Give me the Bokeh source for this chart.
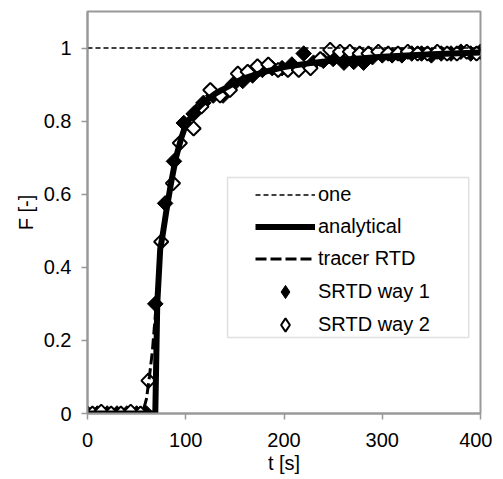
import numpy as np
from bokeh.plotting import figure
from bokeh.models import (Legend, LegendItem, FixedTicker, NumeralTickFormatter,
                          BoxAnnotation, Range1d)
from bokeh.embed import file_html
from bokeh.resources import INLINE

# ---- data ----
one_t = [0, 400]
one_F = [1, 1]

analytical_t = [0, 69, 71, 74, 76, 80, 85, 90, 95, 100, 110, 120, 130, 140, 150,
                160, 180, 200, 225, 250, 300, 350, 400]
analytical_F = [0, 0, 0.30, 0.45, 0.48, 0.55, 0.63, 0.70, 0.75, 0.79, 0.83, 0.855,
                0.875, 0.89, 0.905, 0.918, 0.935, 0.948, 0.958, 0.966, 0.976, 0.983, 0.988]

tracer_t = [0, 56, 60, 63, 66, 70, 74, 78, 85, 90, 100, 120, 150, 200, 250, 300, 400]
tracer_F = [0, 0, 0.04, 0.10, 0.17, 0.30, 0.44, 0.52, 0.63, 0.70, 0.79, 0.855,
            0.905, 0.948, 0.966, 0.976, 0.988]

way1_t = [0, 10, 20, 30, 40, 50, 60, 69, 79, 88, 98, 108, 118, 128, 138, 148, 158,
          168, 178, 188, 198, 208, 220, 230, 240, 250, 261, 271, 281, 290, 300, 310,
          320, 330, 340, 350, 360, 370, 380, 390, 400]
way1_F = [0, 0, 0, 0, 0, 0, 0, 0.30, 0.575, 0.69, 0.795, 0.82, 0.85, 0.87, 0.87,
          0.90, 0.91, 0.925, 0.94, 0.945, 0.945, 0.955, 0.985, 0.96, 0.965, 0.97,
          0.96, 0.962, 0.96, 0.975, 0.98, 0.98, 0.98, 0.985, 0.985, 0.98, 0.985,
          0.985, 0.99, 0.985, 0.99]

way2_t = [5, 14, 24, 34, 44, 54, 62, 75, 87, 94, 108, 116, 125, 135, 145, 153, 163,
          173, 184, 194, 204, 215, 227, 237, 247, 257, 267, 277, 286, 296, 306, 316,
          326, 336, 346, 356, 366, 376, 386, 396]
way2_F = [0, 0.005, 0, 0, 0.005, 0, 0.09, 0.47, 0.63, 0.74, 0.78, 0.84, 0.885, 0.87,
          0.885, 0.93, 0.935, 0.95, 0.955, 0.94, 0.94, 0.94, 0.945, 0.97, 0.995,
          0.99, 0.99, 0.985, 0.985, 0.99, 0.985, 0.985, 0.99, 0.985, 0.985, 0.99,
          0.985, 0.985, 0.99, 0.985]

x_ticks = [0, 100, 200, 300, 400]
y_ticks = [0, 0.2, 0.4, 0.6, 0.8, 1.0]

FONT = "Liberation Sans"
GRAY = "#999999"

p = figure(frame_width=393, frame_height=402, output_backend="svg",
           toolbar_location=None, x_range=Range1d(0, 400), y_range=Range1d(0, 1.1),
           min_border_left=87, min_border_top=11, min_border_right=12,
           min_border_bottom=50)
p.xgrid.visible = False
p.ygrid.visible = False
p.outline_line_color = GRAY
p.outline_line_width = 2
p.background_fill_color = "white"
p.border_fill_color = "white"

for ax in (p.xaxis[0], p.yaxis[0]):
    ax.axis_line_color = GRAY
    ax.axis_line_width = 2
    ax.major_tick_line_color = GRAY
    ax.major_tick_line_width = 1.5
    ax.major_tick_in = 0
    ax.major_tick_out = 6
    ax.minor_tick_line_color = None
    ax.major_label_text_font = FONT
    ax.major_label_text_font_size = "20px"
    ax.major_label_text_color = "black"
    ax.axis_label_text_font = FONT
    ax.axis_label_text_font_size = "20px"
    ax.axis_label_text_font_style = "normal"
    ax.axis_label_text_color = "black"

p.xaxis.ticker = FixedTicker(ticks=x_ticks)
p.yaxis.ticker = FixedTicker(ticks=y_ticks)
p.yaxis.formatter = NumeralTickFormatter(format="0.[0]")
p.xaxis.axis_label = "t [s]"
p.yaxis.axis_label = "F [-]"
p.xaxis.major_label_standoff = 13
p.yaxis.major_label_standoff = 10
p.xaxis.axis_label_standoff = 2
p.yaxis.axis_label_standoff = 4

# markers (rotated squares = diamonds)
r_w1 = p.scatter(way1_t, way1_F, marker="square", angle=np.pi / 4, size=11,
                 fill_color="black", line_color="black", line_width=1)
r_w2 = p.scatter(way2_t, way2_F, marker="square", angle=np.pi / 4, size=10,
                 fill_color="white", line_color="black", line_width=2)
# lines
r_one = p.line(one_t, one_F, line_color="black", line_width=1.5, line_dash="5 3")
r_tr = p.line(tracer_t, tracer_F, line_color="black", line_width=3, line_dash="11 4")
r_an = p.line(analytical_t, analytical_F, line_color="black", line_width=6)

# legend-only glyphs (legend ignores marker angle); NaN -> nothing drawn in plot
lg_w1 = p.scatter([np.nan], [np.nan], marker="diamond", size=17, fill_color="black",
                  line_color="black", line_width=1)
lg_w2 = p.scatter([np.nan], [np.nan], marker="diamond", size=16, fill_color="white",
                  line_color="black", line_width=2)

# legend frame
box = BoxAnnotation(left=142.5, right=388, top=0.646, bottom=0.208,
                    fill_alpha=0, line_color=GRAY, line_width=1.5)
p.add_layout(box)


def style(lg, h, sp):
    lg.border_line_alpha = 0
    lg.background_fill_alpha = 0
    lg.label_text_font = FONT
    lg.label_text_font_size = "20px"
    lg.label_text_color = "black"
    lg.glyph_width = 60
    lg.glyph_height = h
    lg.label_height = h
    lg.label_standoff = 3
    lg.padding = 5
    lg.spacing = sp
    lg.margin = 0


legend_a = Legend(items=[
    LegendItem(label="one", renderers=[r_one]),
    LegendItem(label="analytical", renderers=[r_an]),
    LegendItem(label="tracer RTD", renderers=[r_tr]),
], location=(163, 138), orientation="vertical")
style(legend_a, 23, 9)
p.add_layout(legend_a, "center")

legend_b = Legend(items=[
    LegendItem(label="SRTD way 1", renderers=[lg_w1]),
    LegendItem(label="SRTD way 2", renderers=[lg_w2]),
], location=(163, 67), orientation="vertical")
style(legend_b, 33, 0)
p.add_layout(legend_b, "center")

open("out.html", "w").write(file_html(p, INLINE))
